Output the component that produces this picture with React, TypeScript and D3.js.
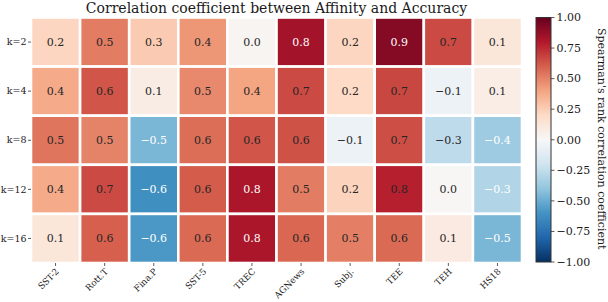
import React from 'react'
import * as d3 from 'd3'

// datasets (columns) and shot counts (rows)
const datasets = ['SST-2', 'Rott.T', 'Fina.P', 'SST-5', 'TREC', 'AGNews', 'Subj.', 'TEE', 'TEH', 'HS18']
const shots = ['k=2', 'k=4', 'k=8', 'k=12', 'k=16']

// spearman correlation per row (estimated from colours, shown rounded to 1 decimal)
const corrK2 = [0.22, 0.52, 0.26, 0.44, 0.02, 0.84, 0.22, 0.92, 0.66, 0.12]
const corrK4 = [0.38, 0.63, 0.08, 0.48, 0.40, 0.66, 0.20, 0.67, -0.06, 0.07]
const corrK8 = [0.54, 0.50, -0.46, 0.56, 0.63, 0.64, -0.06, 0.65, -0.26, -0.36]
const corrK12 = [0.38, 0.66, -0.62, 0.61, 0.82, 0.52, 0.23, 0.78, 0.01, -0.30]
const corrK16 = [0.12, 0.60, -0.58, 0.57, 0.82, 0.58, 0.51, 0.57, 0.09, -0.46]
const matrix = [corrK2, corrK4, corrK8, corrK12, corrK16]

const cbarTicks = [-1, -0.75, -0.5, -0.25, 0, 0.25, 0.5, 0.75, 1]

// matplotlib RdBu_r (linear segments)
const rdbu = ['#053061', '#2166ac', '#4393c3', '#92c5de', '#d1e5f0', '#f7f7f7', '#fddbc7', '#f4a582', '#d6604d', '#b2182b', '#67001f']

const W = 608
const H = 302
const FONT = '"DejaVu Serif", serif'

const fmt = (v: number) => {
  const s = (Math.round(v * 10) / 10).toFixed(1)
  return s === '-0.0' ? '0.0' : s.replace('-', '\u2212')
}

const App: React.FC = () => {
  const x = d3.scaleBand<string>().domain(datasets).range([31, 522])
  const y = d3.scaleBand<string>().domain(shots).range([17.5, 263])
  const color = d3.scaleLinear<string>()
    .domain(d3.range(11).map(i => -1 + i * 0.2))
    .range(rdbu)
    .interpolate(d3.interpolateRgb)
    .clamp(true)

  const cb = { x: 536, w: 15 }
  const cy = d3.scaleLinear().domain([-1, 1]).range([262, 17.5])
  const gradStops = d3.range(0, 1.0001, 0.05)

  // light label on dark cells
  const textColor = (v: number) => (v >= 0.8 || v <= -0.28 ? '#ffffff' : '#262626')

  return (
    <svg width={W} height={H} style={{ position: 'absolute', left: 0, top: 0, background: '#fff' }} fontFamily={FONT}>
      <defs>
        <linearGradient id="cbar" x1="0" y1="1" x2="0" y2="0">
          {gradStops.map(t => (
            <stop key={t} offset={`${t * 100}%`} stopColor={color(-1 + 2 * t)} />
          ))}
        </linearGradient>
      </defs>

      <text x={(31 + 522) / 2} y={13} textAnchor="middle" fontSize={14} fill="#1a1a1a">
        Correlation coefficient between Affinity and Accuracy
      </text>

      {/* cells */}
      {matrix.map((row, i) =>
        row.map((v, j) => (
          <g key={`${i}-${j}`}>
            <rect
              x={x(datasets[j])!}
              y={y(shots[i])!}
              width={x.bandwidth()}
              height={y.bandwidth()}
              fill={color(v)}
              stroke="#fff"
              strokeWidth={2.6}
            />
            <text
              x={x(datasets[j])! + x.bandwidth() / 2}
              y={y(shots[i])! + y.bandwidth() / 2}
              dy="0.36em"
              textAnchor="middle"
              fontSize={11}
              fill={textColor(v)}
            >
              {fmt(v)}
            </text>
          </g>
        ))
      )}

      {/* y axis */}
      {shots.map(s => {
        const cyy = y(s)! + y.bandwidth() / 2
        return (
          <g key={s}>
            <line x1={28} x2={31} y1={cyy} y2={cyy} stroke="#333" strokeWidth={0.8} />
            <text x={26.5} y={cyy} dy="0.34em" textAnchor="end" fontSize={9.5} fill="#1a1a1a">{s}</text>
          </g>
        )
      })}

      {/* x axis */}
      {datasets.map(d => {
        const cx = x(d)! + x.bandwidth() / 2
        return (
          <g key={d}>
            <line x1={cx} x2={cx} y1={263} y2={266} stroke="#333" strokeWidth={0.8} />
            <text
              transform={`translate(${cx + 4},${272}) rotate(-45)`}
              textAnchor="end"
              fontSize={8.8}
              fill="#1a1a1a"
            >
              {d}
            </text>
          </g>
        )
      })}

      {/* colorbar */}
      <rect x={cb.x} y={cy(1)} width={cb.w} height={cy(-1) - cy(1)} fill="url(#cbar)" stroke="#333" strokeWidth={1} />
      {cbarTicks.map(t => (
        <g key={t}>
          <line x1={cb.x + cb.w} x2={cb.x + cb.w + 3.5} y1={cy(t)} y2={cy(t)} stroke="#333" strokeWidth={0.8} />
          <text x={cb.x + cb.w + 5.5} y={cy(t)} dy="0.35em" fontSize={11} fill="#1a1a1a">
            {t.toFixed(2).replace('-', '\u2212')}
          </text>
        </g>
      ))}
      <text
        transform={`translate(${597.5},${(cy(1) + cy(-1)) / 2 - 1}) rotate(90)`}
        textAnchor="middle"
        fontSize={11}
        fill="#1a1a1a"
      >
        Spearman's rank correlation coefficient
      </text>
    </svg>
  )
}

export default App
